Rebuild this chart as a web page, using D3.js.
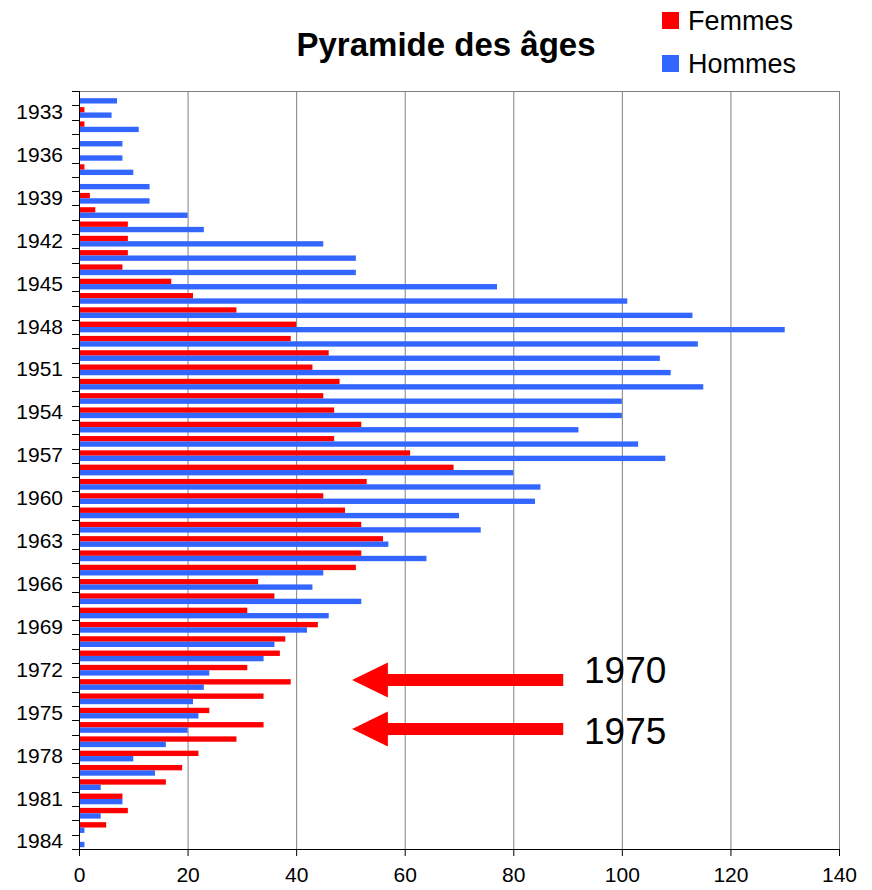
<!DOCTYPE html>
<html>
<head>
<meta charset="utf-8">
<script src="https://cdn.jsdelivr.net/npm/d3@7"></script>
<style>
  body { margin: 0; background: #fff; }
  svg { display: block; font-family: 'Liberation Sans', Arial, sans-serif; }
</style>
</head>
<body>
<svg id="chart" width="872" height="890"></svg>
<script>
// années de naissance, de haut en bas
const years = d3.range(1932, 1985);

const femmes = [
  0, 1, 1, 0, 0, 1, 0, 2, 3, 9,
  9, 9, 8, 17, 21, 29, 40, 39, 46, 43,
  48, 45, 47, 52, 47, 61, 69, 53, 45, 49,
  52, 56, 52, 51, 33, 36, 31, 44, 38, 37,
  31, 39, 34, 24, 34, 29, 22, 19, 16, 8,
  9, 5, 0
];

const hommes = [
  7, 6, 11, 8, 8, 10, 13, 13, 20, 23,
  45, 51, 51, 77, 101, 113, 130, 114, 107, 109,
  115, 100, 100, 92, 103, 108, 80, 85, 84, 70,
  74, 57, 64, 45, 43, 52, 46, 42, 36, 34,
  24, 23, 21, 22, 20, 16, 10, 14, 4, 8,
  4, 1, 1
];

const seriesNames = ['Femmes', 'Hommes'];
const seriesColors = ['#ff0000', '#3366ff'];
const xTicks = [0, 20, 40, 60, 80, 100, 120, 140];

// flèches d'annotation
const arrowLabels = ['1970', '1975'];
const arrowY = [680, 729];
const arrowLabelY = [683, 744];

const width = 872, height = 890;
const plot = { left: 79, right: 839, top: 91, bottom: 849 };

const svg = d3.select('#chart');

const x = d3.scaleLinear().domain([0, 140]).range([plot.left, plot.right]);
const y = d3.scaleBand().domain(years).range([plot.top, plot.bottom])
  .paddingInner(0.25).paddingOuter(0.125);
const ySub = d3.scaleBand().domain(seriesNames).range([0, y.bandwidth()]);
const color = d3.scaleOrdinal().domain(seriesNames).range(seriesColors);

// category boundaries (ticks sit between years)
const step = (plot.bottom - plot.top) / years.length;

const rows = years.map((yr, i) => ({ year: yr, Femmes: femmes[i], Hommes: hommes[i] }));

// gridlines
svg.append('g')
  .selectAll('line')
  .data(xTicks.slice(1))
  .join('line')
  .attr('x1', d => x(d) + 0.5)
  .attr('x2', d => x(d) + 0.5)
  .attr('y1', plot.top)
  .attr('y2', plot.bottom)
  .attr('stroke', '#808080')
  .attr('stroke-width', 1);

// top border of the plot area
svg.append('line')
  .attr('x1', plot.left).attr('x2', plot.right + 1)
  .attr('y1', plot.top + 0.5).attr('y2', plot.top + 0.5)
  .attr('stroke', '#808080');

// bars
svg.append('g')
  .selectAll('g')
  .data(rows)
  .join('g')
  .attr('transform', d => `translate(0,${y(d.year)})`)
  .selectAll('rect')
  .data(d => seriesNames.map(s => ({ key: s, value: d[s] })))
  .join('rect')
  .attr('x', x(0))
  .attr('y', d => ySub(d.key))
  .attr('width', d => x(d.value) - x(0))
  .attr('height', ySub.bandwidth())
  .attr('fill', d => color(d.key));

// x axis
const xAxis = d3.axisBottom(x).tickValues(xTicks).tickSize(7).tickPadding(11);
const gx = svg.append('g')
  .attr('transform', `translate(0,${plot.bottom})`)
  .call(xAxis);
gx.select('.domain').attr('stroke', '#000').attr('d', `M${plot.left},0.5H${plot.right + 1}`);
gx.selectAll('.tick line').attr('stroke', '#000');
gx.selectAll('.tick text')
  .attr('font-size', 21)
  .attr('fill', '#000')
  .attr('font-family', "'Liberation Sans', Arial, sans-serif");

// y axis : line, ticks between categories, labels every 3 years
svg.append('line')
  .attr('x1', plot.left + 0.5).attr('x2', plot.left + 0.5)
  .attr('y1', plot.top).attr('y2', plot.bottom + 1)
  .attr('stroke', '#000');

svg.append('g')
  .selectAll('line')
  .data(d3.range(years.length + 1))
  .join('line')
  .attr('x1', plot.left - 7)
  .attr('x2', plot.left)
  .attr('y1', i => Math.round(plot.top + i * step) + 0.5)
  .attr('y2', i => Math.round(plot.top + i * step) + 0.5)
  .attr('stroke', '#000');

svg.append('g')
  .selectAll('text')
  .data(years.filter(yr => (1984 - yr) % 3 === 0))
  .join('text')
  .attr('x', 63)
  .attr('y', yr => plot.top + (years.indexOf(yr) + 0.5) * step - 1)
  .attr('dy', '0.36em')
  .attr('text-anchor', 'end')
  .attr('font-size', 21)
  .text(yr => yr);

// title
svg.append('text')
  .attr('x', 446)
  .attr('y', 56)
  .attr('text-anchor', 'middle')
  .attr('font-size', 33)
  .attr('font-weight', 'bold')
  .text('Pyramide des âges');

// legend
const legend = svg.append('g')
  .selectAll('g')
  .data(seriesNames)
  .join('g')
  .attr('transform', (d, i) => `translate(662,${12 + i * 43})`);

legend.append('rect')
  .attr('width', 17)
  .attr('height', 17)
  .attr('fill', d => color(d));

legend.append('text')
  .attr('x', 26)
  .attr('y', 18)
  .attr('font-size', 27)
  .text(d => d);

// arrows
const tipX = x(50.3), headX = x(56.9), endX = x(89.2);
svg.append('g')
  .selectAll('path')
  .data(arrowY)
  .join('path')
  .attr('transform', d => `translate(0,${d})`)
  .attr('d', `M${tipX},0 L${headX},-17.5 L${headX},-6 L${endX},-6 L${endX},6 L${headX},6 L${headX},17.5 Z`)
  .attr('fill', '#ff0000');

svg.append('g')
  .selectAll('text')
  .data(arrowLabels)
  .join('text')
  .attr('x', 584)
  .attr('y', (d, i) => arrowLabelY[i])
  .attr('font-size', 37)
  .text(d => d);
</script>
</body>
</html>
